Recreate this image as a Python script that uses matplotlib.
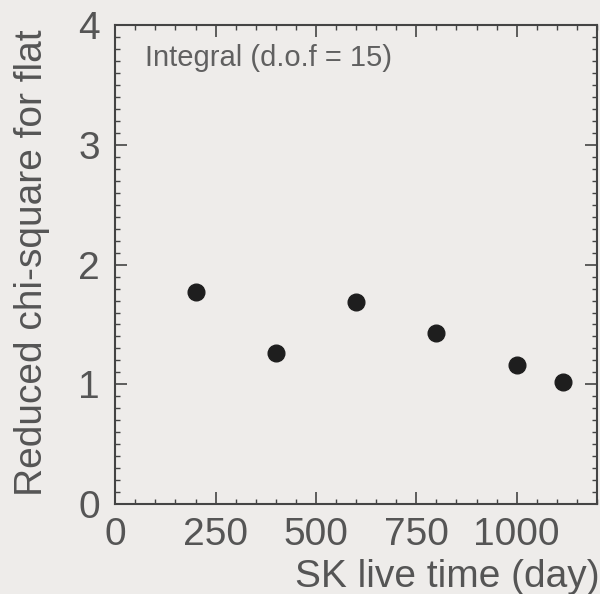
import matplotlib.pyplot as plt
from matplotlib.ticker import MultipleLocator

# reduced chi-square vs. live time
live_days = [200, 400, 600, 800, 1000, 1115]
chi2_red = [1.77, 1.26, 1.69, 1.43, 1.16, 1.02]

plt.rcParams['font.family'] = ['Liberation Sans', 'DejaVu Sans']

fig = plt.figure(figsize=(6, 5.94), dpi=100, facecolor='#eeecea')
ax = fig.add_axes([0.192, 0.1515, 0.803, 0.806], facecolor='#eeecea')

ax.plot(live_days, chi2_red, 'o', color='#1e1e1e', markersize=12)

ax.set_xlim(0, 1200)
ax.set_ylim(0, 4)
ax.set_xticks([0, 250, 500, 750, 1000])
ax.set_yticks([0, 1, 2, 3, 4])
ax.xaxis.set_minor_locator(MultipleLocator(50))
ax.yaxis.set_minor_locator(MultipleLocator(0.1))
ax.tick_params(which='both', direction='in', top=True, right=True,
               colors='#444444', labelcolor='#555555', labelsize=28)
ax.tick_params(axis='x', which='major', length=8.5, width=1.2, pad=9)
ax.tick_params(axis='y', which='major', length=8.5, width=1.2, pad=11)
ax.tick_params(which='minor', length=3.5, width=1)
for s in ax.spines.values():
    s.set_color('#444444')
    s.set_linewidth(1.5)

ax.set_xlabel('SK live time (day)', fontsize=28, color='#555555',
              ha='right', va='top')
ax.xaxis.set_label_coords(1.006, -0.114)
ax.set_ylabel('Reduced chi-square for flat', fontsize=28, color='#555555')
ax.yaxis.set_label_coords(-0.135, 0.504)
ax.text(0.062, 0.96, 'Integral (d.o.f = 15)', transform=ax.transAxes,
        fontsize=21, color='#606060', va='top', ha='left')

fig.savefig('out.png', dpi=100, facecolor=fig.get_facecolor())
